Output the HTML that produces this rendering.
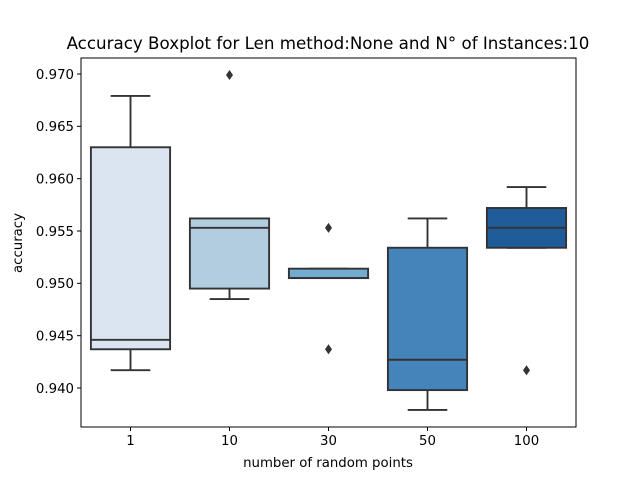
<!DOCTYPE html>
<html><head><meta charset="utf-8"><style>
body{margin:0;background:#fff;font-family:"Liberation Sans","DejaVu Sans",sans-serif;}
svg text{font-family:"DejaVu Sans","Liberation Sans",sans-serif;}
</style></head><body>
<svg id="chart" width="640" height="480" viewBox="0 0 640 480" xmlns="http://www.w3.org/2000/svg">
<rect width="640" height="480" fill="#fff"/>
<text x="328" y="49" font-size="16.7" text-anchor="middle">Accuracy Boxplot for Len method:None and N° of Instances:10</text>
<g id="plot"></g>
<text x="328" y="467" font-size="13.3" text-anchor="middle">number of random points</text>
<text transform="translate(22,243) rotate(-90)" font-size="13.3" text-anchor="middle">accuracy</text>
</svg>
<script>
const categories=["1","10","30","50","100"];
const whiskerLow=[0.9417,0.9485,0.9505,0.9379,0.9534];
const q1=[0.9437,0.9495,0.9505,0.9398,0.9534];
const medians=[0.9446,0.9553,0.9505,0.9427,0.9553];
const q3=[0.9630,0.9562,0.9514,0.9534,0.9572];
const whiskerHigh=[0.9679,0.9562,0.9514,0.9562,0.9592];
const outliers=[[],[0.9699],[0.9553,0.9437],[],[0.9417]];
const yTicks=[0.940,0.945,0.950,0.955,0.960,0.965,0.970];
const colors=["#dae5f1","#b3cde0","#72acd0","#4484bb","#1f5c99"];
const L=81,R=576,T=58,B=427;
const y=v=>388-(v-0.940)/0.005*52.333;
const bw=(R-L)/categories.length;
const x=i=>L+bw*(i+0.5);
const NS="http://www.w3.org/2000/svg";
const g=document.getElementById('plot');
function mk(tag,attrs,parent){const e=document.createElementNS(NS,tag);for(const k in attrs)e.setAttribute(k,attrs[k]);(parent||g).appendChild(e);return e;}
const stroke="#333";
const sw=1.9;
categories.forEach((c,i)=>{
  const cx=x(i),hw=bw*0.4;
  const grp=mk('g',{});
  
  
  mk('line',{x1:cx,x2:cx,y1:y(q1[i]),y2:y(whiskerLow[i]),stroke:stroke,'stroke-width':sw},grp);
  mk('line',{x1:cx,x2:cx,y1:y(q3[i]),y2:y(whiskerHigh[i]),stroke:stroke,'stroke-width':sw},grp);
  mk('line',{x1:cx-hw/2,x2:cx+hw/2,y1:y(whiskerLow[i]),y2:y(whiskerLow[i]),stroke:stroke,'stroke-width':sw},grp);
  mk('line',{x1:cx-hw/2,x2:cx+hw/2,y1:y(whiskerHigh[i]),y2:y(whiskerHigh[i]),stroke:stroke,'stroke-width':sw},grp);
  mk('rect',{x:cx-hw,y:y(q3[i]),width:2*hw,height:Math.max(0.5,y(q1[i])-y(q3[i])),fill:colors[i],stroke:stroke,'stroke-width':sw},grp);
  mk('line',{x1:cx-hw,x2:cx+hw,y1:y(medians[i]),y2:y(medians[i]),stroke:stroke,'stroke-width':sw},grp);
  outliers[i].forEach(v=>{
    const p=mk('path',{d:`M${cx} ${y(v)-5}L${cx+3.5} ${y(v)}L${cx} ${y(v)+5}L${cx-3.5} ${y(v)}Z`,fill:stroke},grp);
    
    
  });
  const t=mk('text',{x:cx,y:B+18,'font-size':13.3,'text-anchor':'middle'});
  t.textContent=c;
  
  
  mk('line',{x1:cx,x2:cx,y1:B,y2:B+4,stroke:'#000','stroke-width':1});
});
yTicks.forEach(v=>{
  mk('line',{x1:L-4,x2:L,y1:y(v),y2:y(v),stroke:'#000','stroke-width':1});
  const t=mk('text',{x:L-7,y:y(v)+4.8,'font-size':13.3,'text-anchor':'end'});
  t.textContent=v.toFixed(3);
  
  
});
const fr=mk('rect',{x:L,y:T,width:R-L,height:B-T,fill:'none',stroke:'#000','stroke-width':1});


</script>
</body></html>
